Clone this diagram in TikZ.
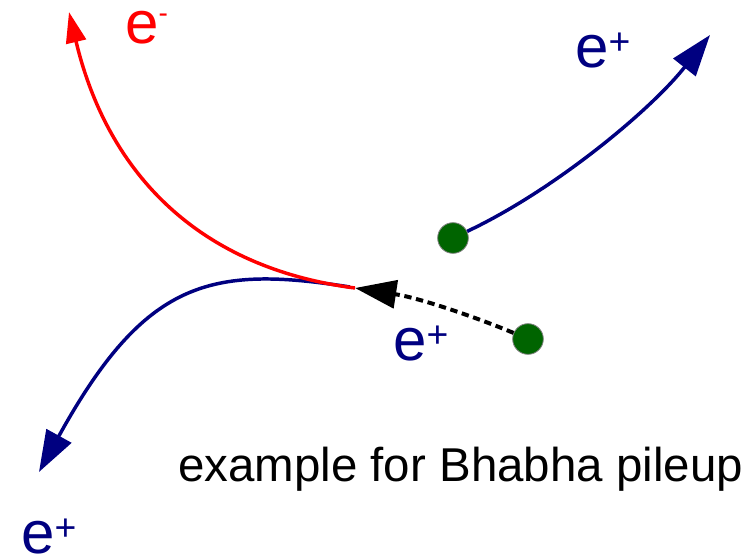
\documentclass[tikz,border=0pt]{standalone}
\usepackage{fontspec}
\setmainfont{Liberation Sans}
\usetikzlibrary{arrows.meta}
\definecolor{posblue}{HTML}{000080}
\definecolor{dotgreen}{HTML}{006400}
\newcommand{\posi}{e\raisebox{9.7pt}{\fontsize{28}{28}\selectfont +}}
\newcommand{\elec}{e\raisebox{15.5pt}{\fontsize{21}{21}\selectfont -}}

\begin{document}
\begin{tikzpicture}[x=0.75pt,y=-0.75pt, >={Triangle[length=31pt,width=21pt]},
  trk/.style={line width=2.6pt}, lbl/.style={anchor=base west,inner sep=0pt,font=\fontsize{45}{54}\selectfont},
  dot/.style={circle,draw=gray,line width=0.6pt,fill=dotgreen,minimum size=23pt,inner sep=0pt}]
\useasboundingbox (0,0) rectangle (756,557);
\node[dot] (d1) at (453,238) {};
\node[dot] (d2) at (528,339) {};
\coordinate (vtx) at (355,288);
\coordinate (bvtx) at (350,287);
\coordinate (emtip) at (69,12);
\coordinate (eptip) at (710,35);
\coordinate (eplow) at (39,472);
\draw[trk,posblue,->] (bvtx) .. controls (210,265) and (145,280) .. (eplow);
\draw[trk,red,-{Triangle[length=23pt,width=15pt]}] (vtx) .. controls (200,268) and (108,175) .. (emtip);
\draw[trk,posblue,->] (d1) .. controls (553,191) and (650,111) .. (eptip);
\draw[line width=3pt,black,dash pattern=on 5.5pt off 3.5pt,->] (d2) .. controls (478,318) and (420,298) .. (vtx);
\node[lbl,red] (em) at (125,43) {\elec};
\node[lbl,posblue] (ep1) at (575,67) {\posi};
\node[lbl,posblue] (ep2) at (393,360) {\posi};
\node[lbl,posblue] (ep3) at (21,553) {\posi};
\node[anchor=base west,inner sep=0pt,font=\fontsize{35.6}{42}\selectfont] (cap) at (178,481) {example for Bhabha pileup};
\end{tikzpicture}
\end{document}
